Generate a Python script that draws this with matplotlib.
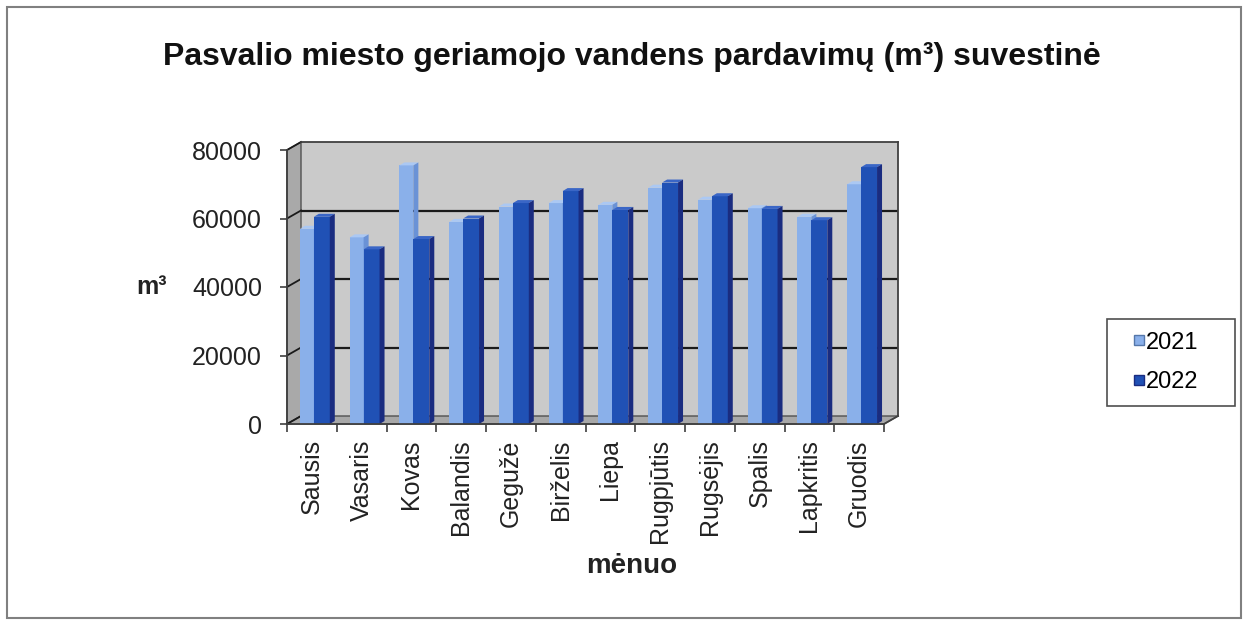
import numpy as np
import matplotlib
matplotlib.use("Agg")
import matplotlib.pyplot as plt
from matplotlib.patches import Polygon, Rectangle
from matplotlib.lines import Line2D
from matplotlib.transforms import IdentityTransform

plt.rcParams['font.family'] = ['Liberation Sans', 'DejaVu Sans']

months = ["Sausis", "Vasaris", "Kovas", "Balandis", "Gegužė", "Birželis",
          "Liepa", "Rugpjūtis", "Rugsėjis", "Spalis", "Lapkritis", "Gruodis"]
values_2021 = [57000, 54500, 75500, 59000, 63500, 64500,
               64000, 69000, 65500, 63000, 60500, 70000]
values_2022 = [60500, 51000, 54000, 60000, 64500, 68000,
               62500, 70500, 66500, 62800, 59500, 75000]
series_names = ["2021", "2022"]
y_ticks = [0, 20000, 40000, 60000, 80000]

W, H = 1245, 624
fig = plt.figure(figsize=(W / 100, H / 100), dpi=100)
fig.patch.set_facecolor('white')

# outer frame
fig.patches.append(Rectangle((7 / W, 6 / H), (1241 - 7) / W, (617 - 6) / H,
                             transform=fig.transFigure, fill=False,
                             ec='#808080', lw=1.5))

# front plane geometry (pixels)
L, R, T, B = 287, 884, 150, 424
DX, DY = 14, 8  # depth offset of back wall
pos_front = [L / W, (H - B) / H, (R - L) / W, (B - T) / H]
pos_wall = [(L + DX) / W, (H - B + DY) / H, (R - L) / W, (B - T) / H]

# back wall
axw = fig.add_axes(pos_wall)
axw.set_xlim(0, 12)
axw.set_ylim(0, 80000)
axw.set_facecolor('#CACACA')
axw.set_yticks(y_ticks[1:-1])
axw.set_xticks([])
axw.tick_params(left=False, labelleft=False)
axw.grid(axis='y', color='#1a1a1a', lw=1.6)
for s in ['left', 'bottom']:
    axw.spines[s].set_visible(False)
for s in ['top', 'right']:
    axw.spines[s].set_color('#404040')
    axw.spines[s].set_linewidth(1.3)

# front axes
ax = fig.add_axes(pos_front)
ax.set_xlim(0, 12)
ax.set_ylim(0, 80000)
ax.set_facecolor('none')
ax.set_zorder(2)

def disp(a, x, y):
    return a.transData.transform((x, y))

ident = IdentityTransform()

# side wall and floor (through transforms of both planes)
fl0 = disp(ax, 0, 0); fr0 = disp(ax, 12, 0); ft0 = disp(ax, 0, 80000)
bl0 = disp(axw, 0, 0); br0 = disp(axw, 12, 0); bt0 = disp(axw, 0, 80000)
side = Polygon([fl0, ft0, bt0, bl0], closed=True, transform=ident,
               fc='#A9A9A9', ec='#505050', lw=1.0, clip_on=False, zorder=0.5)
axw.add_patch(side)
floor = Polygon([fl0, fr0, br0, bl0], closed=True, transform=ident,
                fc='#A8A8A8', ec='#505050', lw=1.0, clip_on=False, zorder=0.6)
axw.add_patch(floor)
for v in y_ticks:
    p0 = disp(ax, 0, v); p1 = disp(axw, 0, v)
    axw.add_line(Line2D([p0[0], p1[0]], [p0[1], p1[1]], transform=ident,
                        color='#1a1a1a', lw=1.3, clip_on=False, zorder=0.7))

# bars
c_front = ['#8AB0EA', '#2051B5']
c_top = ['#ABC8F3', '#3A66C6']
c_side = ['#6A92D6', '#1A2C80']
bw = [0.28, 0.32]
bx = [0.26, 0.54]
d, dz = 5, 3
k = 0
for i in range(12):
    for s, vals in enumerate([values_2021, values_2022]):
        x0 = i + bx[s]
        x1 = x0 + bw[s]
        h = vals[i]
        z = 3 + k * 0.01
        ax.bar([x0], [h], width=bw[s], align='edge', color=c_front[s],
               lw=0, zorder=z, clip_on=False)
        p00 = disp(ax, x0, h); p10 = disp(ax, x1, h); pb = disp(ax, x1, 0)
        top = Polygon([p00, p10, p10 + (d, dz), p00 + (d, dz)], closed=True,
                      transform=ident, fc=c_top[s], lw=0, zorder=z,
                      clip_on=False)
        sidef = Polygon([pb, p10, p10 + (d, dz), pb + (d, dz)], closed=True,
                        transform=ident, fc=c_side[s], lw=0, zorder=z,
                        clip_on=False)
        ax.add_patch(top)
        ax.add_patch(sidef)
        k += 1

# floor right edge
p0 = disp(ax, 12, 0); p1 = disp(axw, 12, 0)
ax.add_line(Line2D([p0[0], p1[0]], [p0[1], p1[1]], transform=ident,
                   color='#404040', lw=1.3, clip_on=False))

# axes styling
for s in ['top', 'right']:
    ax.spines[s].set_visible(False)
for s in ['left', 'bottom']:
    ax.spines[s].set_color('#404040')
    ax.spines[s].set_linewidth(1.3)
    ax.spines[s].set_zorder(10)
ax.set_yticks(y_ticks)
ax.set_yticklabels([str(v) for v in y_ticks], fontsize=18, color='#222222')
ax.tick_params(axis='y', direction='out', length=5, width=1.2,
               color='#404040', pad=13)
ax.set_xticks(np.arange(13))
ax.set_xticklabels([''] * 13)
ax.tick_params(axis='x', which='major', direction='out', length=6,
               width=1.2, color='#404040')
ax.set_xticks(np.arange(12) + 0.5, minor=True)
ax.set_xticklabels(months, minor=True, rotation=90, fontsize=18,
                   color='#222222')
ax.tick_params(axis='x', which='minor', length=0, pad=11)

# texts
fig.text(632 / W, 1 - 57 / H,
         "Pasvalio miesto geriamojo vandens pardavimų (m³) suvestinė",
         ha='center', va='center', fontsize=23, fontweight='bold',
         color='#111111')
fig.text(152 / W, 1 - 287 / H, "m³", ha='center', va='center',
         fontsize=18, fontweight='bold', color='#222222')
fig.text(632 / W, 1 - 566 / H, "mėnuo", ha='center', va='center',
         fontsize=20, fontweight='bold', color='#222222')

# legend
handles = [Line2D([], [], marker='s', ls='none', markersize=7,
                  markerfacecolor=c_front[0], markeredgecolor='#5577aa'),
           Line2D([], [], marker='s', ls='none', markersize=7,
                  markerfacecolor=c_front[1], markeredgecolor='#1a2c80')]
leg = fig.legend(handles, series_names, loc='center',
                 bbox_to_anchor=(1107 / W, 1 - 407 / H, 128 / W, 89 / H),
                 mode='expand', fontsize=17,
                 frameon=True, fancybox=False, edgecolor='#222222',
                 handlelength=1.6, handletextpad=-0.5, labelspacing=0.75,
                 borderpad=0.55, borderaxespad=0)
leg.get_frame().set_linewidth(1.2)

fig.savefig("out.png", dpi=100, facecolor='white')
